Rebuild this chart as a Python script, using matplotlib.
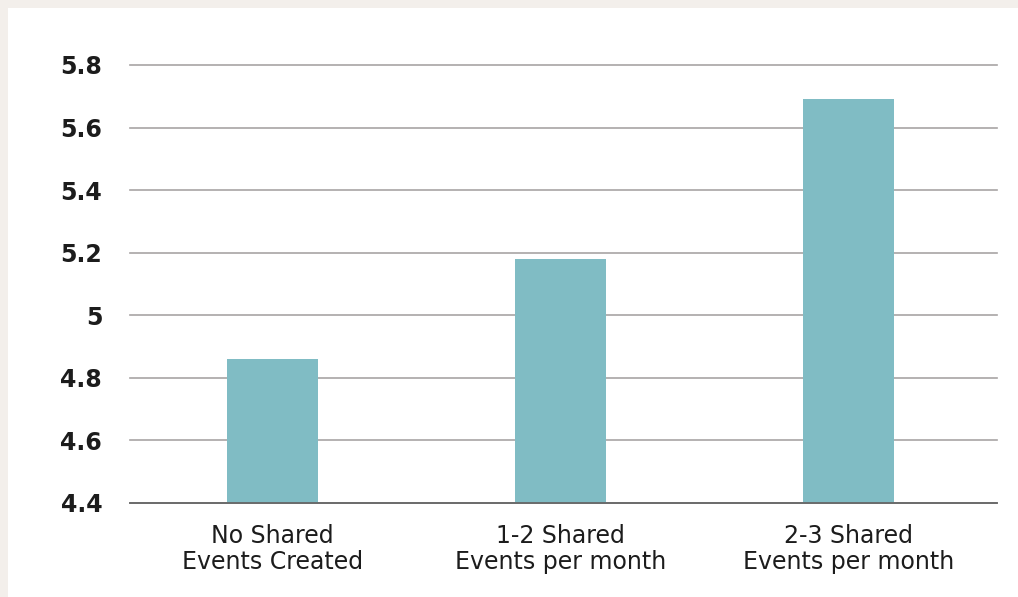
import matplotlib
matplotlib.use("Agg")
import matplotlib.pyplot as plt
from matplotlib.patches import Rectangle

categories = ["No Shared\nEvents Created", "1-2 Shared\nEvents per month", "2-3 Shared\nEvents per month"]
values = [4.86, 5.18, 5.69]
yticks = [4.4, 4.6, 4.8, 5.0, 5.2, 5.4, 5.6, 5.8]
ytick_labels = ["4.4", "4.6", "4.8", "5", "5.2", "5.4", "5.6", "5.8"]

fig = plt.figure(figsize=(10.18, 5.97), dpi=100, facecolor="#f3efeb")
fig.patches.append(Rectangle((8/1018, 0), 1, 1 - 8/597, transform=fig.transFigure,
                             facecolor="white", edgecolor="none", zorder=-5))

ax = fig.add_axes([130/1018, 1 - 503/597, 867/1018, 438/597])
ax.set_zorder(2)
ax.set_facecolor("none")
x = list(range(len(categories)))
ax.bar(x, values, width=0.316, color="#80bcc4", zorder=2)
ax.set_xlim(-0.495, 2.516)
ax.set_ylim(4.4, 5.8)
ax.set_yticks(yticks)
ax.set_yticklabels(ytick_labels, fontfamily="DejaVu Sans", fontweight="bold", fontsize=17, color="#1c1c1c")
ax.set_xticks(x)
ax.set_xticklabels(categories, fontfamily="DejaVu Sans", fontsize=17, color="#1c1c1c",
                   linespacing=1.1)
ax.tick_params(axis="y", length=0, pad=20)
ax.tick_params(axis="x", length=0, pad=15)
ax.grid(axis="y", color="#a8a4a4", linewidth=1.2, zorder=1)
for gl in ax.get_ygridlines():
    gl.set_clip_on(False)
for s in ["top", "right", "left"]:
    ax.spines[s].set_visible(False)
ax.spines["bottom"].set_color("#666666")
ax.spines["bottom"].set_linewidth(1.3)
ax.spines["bottom"].set_zorder(3)

fig.savefig("out.png", dpi=100, facecolor=fig.get_facecolor())
